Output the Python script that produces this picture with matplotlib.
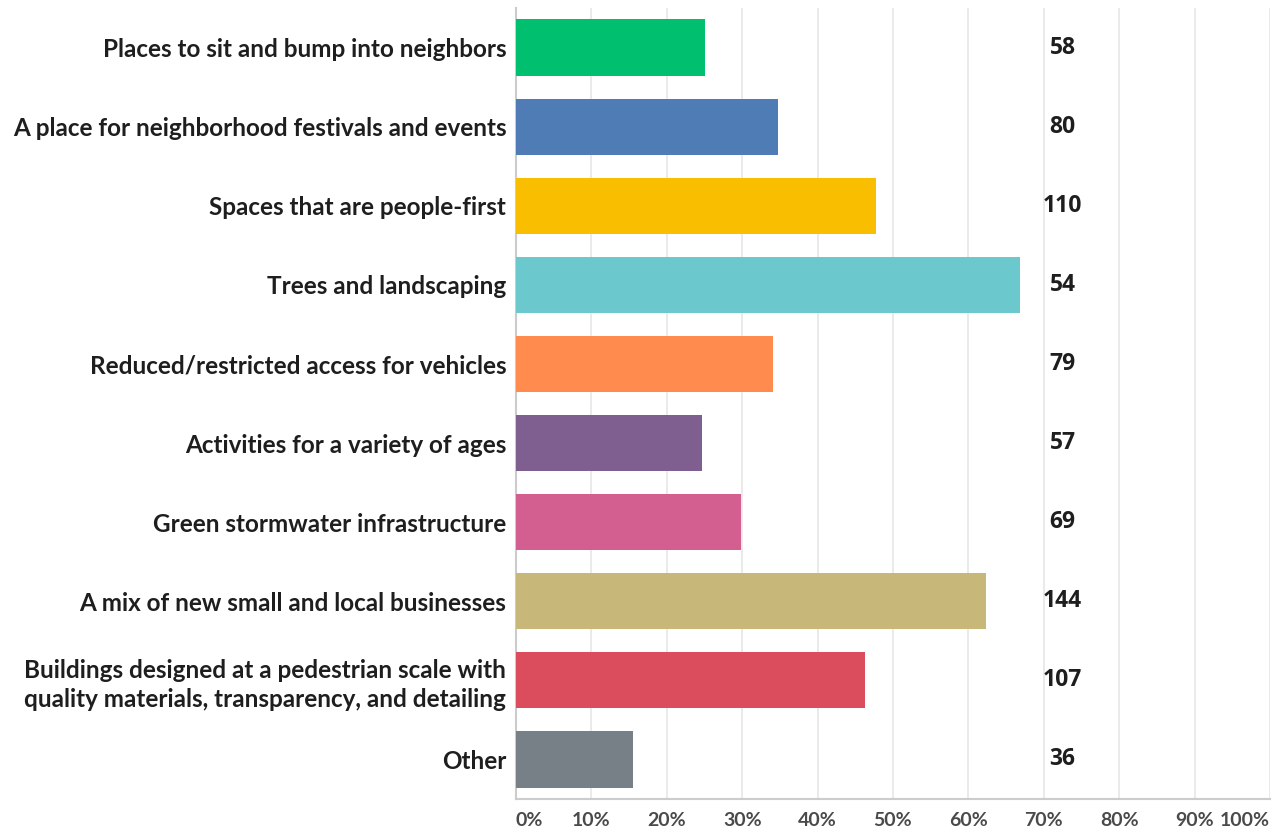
import matplotlib
matplotlib.use("Agg")
import matplotlib.pyplot as plt

categories = [
    "Places to sit and bump into neighbors",
    "A place for neighborhood festivals and events",
    "Spaces that are people-first",
    "Trees and landscaping",
    "Reduced/restricted access for vehicles",
    "Activities for a variety of ages",
    "Green stormwater infrastructure",
    "A mix of new small and local businesses",
    "Buildings designed at a pedestrian scale with\nquality materials, transparency, and detailing",
    "Other",
]
percents = [25.1, 34.7, 47.7, 66.8, 34.1, 24.7, 29.8, 62.3, 46.3, 15.5]
counts = [58, 80, 110, 54, 79, 57, 69, 144, 107, 36]
colors = ["#00BF6F", "#507CB6", "#F9BE00", "#6BC8CD", "#FF8B4F",
          "#7F5F90", "#D25F90", "#C7B879", "#DB4D5C", "#768086"]
tick_values = [0, 10, 20, 30, 40, 50, 60, 70, 80, 90, 100]
tick_labels = ["0%", "10%", "20%", "30%", "40%", "50%", "60%", "70%", "80%", "90%", "100%"]

fig = plt.figure(figsize=(12.72, 8.32), dpi=100)
ax = fig.add_axes([516 / 1272, 1 - 799 / 832, (1270 - 516) / 1272, (799 - 8) / 832])

y = list(range(len(categories)))
ax.barh(y, percents, height=0.71, color=colors, zorder=3)

for yi, c in zip(y, counts):
    ax.text(72.5, yi, str(c), ha="center", va="center", fontsize=16.5,
            fontweight="bold", family="Open Sans", color="#1E1E1E")

ax.set_xlim(0, 100)
ax.set_ylim(len(categories) - 0.5, -0.5)
ax.set_yticks(y)
ax.set_yticklabels(categories, fontsize=17.5, fontweight="bold", family="Lato",
                   color="#1E1E1E", linespacing=1.3)
ax.tick_params(axis="y", length=0, pad=7)

ax.set_xticks(tick_values)
ax.set_xticklabels(tick_labels, fontsize=14, fontweight="bold", family="Lato",
                   color="#4A4A4A")
ax.tick_params(axis="x", length=0, pad=9)
labs = ax.get_xticklabels()
labs[0].set_ha("left")
labs[-1].set_ha("right")

ax.grid(axis="x", color="#E6E6E6", linewidth=1.2, zorder=0)
for s in ["top", "right"]:
    ax.spines[s].set_visible(False)
for s in ["left", "bottom"]:
    ax.spines[s].set_color("#CCCCCC")
    ax.spines[s].set_linewidth(1.5)

fig.savefig("out.png", dpi=100)
